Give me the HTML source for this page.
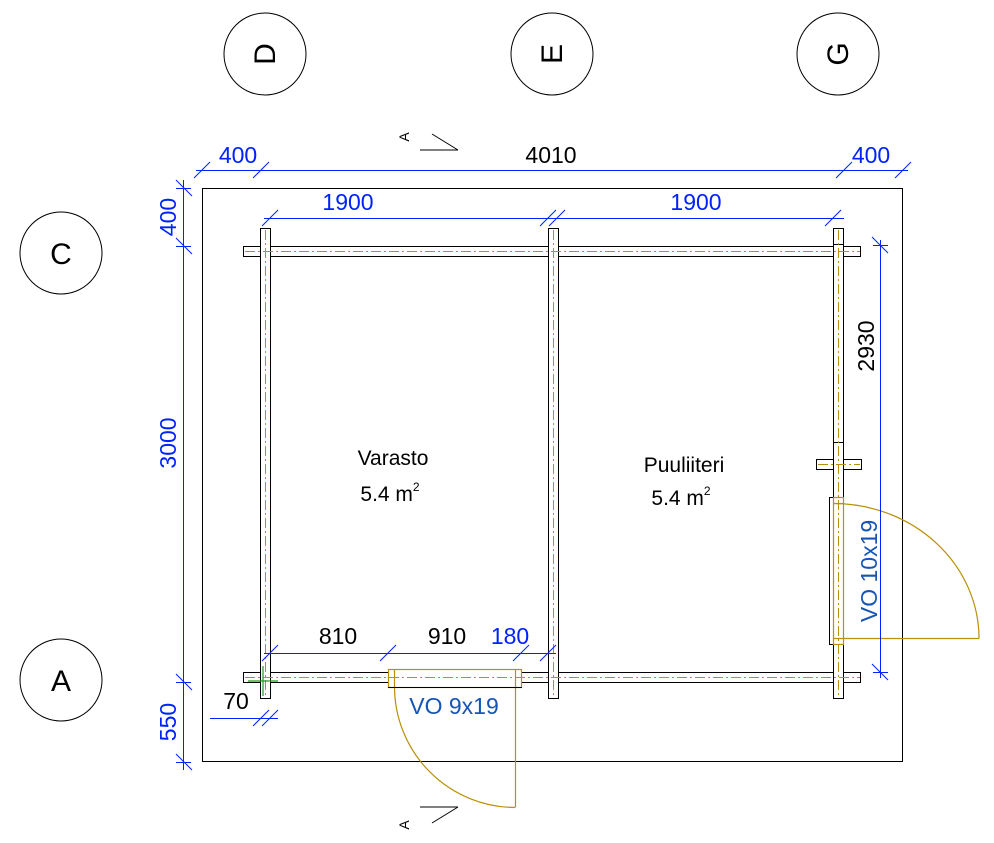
<!DOCTYPE html>
<html><head><meta charset="utf-8"><style>
html,body{margin:0;padding:0;background:#fff;width:994px;height:843px;overflow:hidden}
svg{display:block}
text{font-family:"Liberation Sans Narrow","Liberation Sans",Arial,sans-serif}
</style></head><body>
<svg width="994" height="843" viewBox="0 0 994 843" xmlns="http://www.w3.org/2000/svg">
<g fill="none" stroke="#000" stroke-width="1">
<circle cx="265" cy="54" r="41"/><circle cx="552" cy="54" r="41"/><circle cx="838" cy="54" r="41"/>
<circle cx="61" cy="253" r="41"/><circle cx="61" cy="680" r="41"/>
<rect x="202.5" y="188.5" width="700" height="573"/>
<rect x="243.5" y="246.5" width="617" height="10" fill="#fff"/>
<rect x="243.5" y="672.5" width="617" height="10" fill="#fff"/>
<rect x="816.5" y="459.5" width="45" height="10" fill="#fff"/>
<rect x="260.5" y="228.5" width="10" height="470" fill="#fff"/>
<rect x="548.5" y="228.5" width="10" height="470" fill="#fff"/>
<rect x="833.5" y="228.5" width="10" height="470" fill="#fff"/>
<line x1="833" y1="442.5" x2="844" y2="442.5"/>
<line x1="833" y1="244.5" x2="844" y2="244.5"/>
<rect x="829.5" y="497.5" width="14" height="147" fill="#fff"/>
<rect x="388.5" y="669.5" width="133" height="18" fill="#fff"/>
<line x1="420" y1="150" x2="458" y2="150"/><line x1="432" y1="134" x2="458" y2="150"/>
<line x1="420" y1="807" x2="458" y2="807"/><line x1="432" y1="823" x2="458" y2="807"/>
</g>
<g stroke="#b8900a" stroke-width="1" stroke-dasharray="10,3,2,3" fill="none">
<line x1="245" y1="251.5" x2="860" y2="251.5"/>
<line x1="245" y1="677.5" x2="860" y2="677.5"/>
<line x1="818" y1="464.5" x2="860" y2="464.5"/>
<line x1="265.5" y1="230" x2="265.5" y2="698"/>
<line x1="553.5" y1="230" x2="553.5" y2="698"/>
<line x1="838.5" y1="230" x2="838.5" y2="698"/>
</g>
<g stroke="#b8900a" stroke-width="1.2" fill="none">
<rect x="833.5" y="497.5" width="10" height="147"/>
<line x1="833" y1="503.5" x2="844" y2="503.5"/>
<line x1="833" y1="638.5" x2="979" y2="638.5"/>
<path d="M833 503.5 A146 135 0 0 1 979 638.5"/>
<rect x="388.5" y="669.5" width="133" height="18"/>
<line x1="394.5" y1="670" x2="394.5" y2="687"/>
<line x1="515.5" y1="670" x2="515.5" y2="807"/>
<path d="M394.5 687 A121 121 0 0 0 515.5 807.5"/>
</g>
<line x1="388" y1="687.5" x2="522" y2="687.5" stroke="#000"/>
<g stroke="#1a9a1a" stroke-width="1.2"><line x1="248" y1="681" x2="278" y2="681"/><line x1="263" y1="666" x2="263" y2="696"/></g>
<g stroke="#0022ff" stroke-width="1" fill="none">
<line x1="196" y1="170.5" x2="908" y2="170.5"/>
<line x1="183.5" y1="180" x2="183.5" y2="770"/>
<line x1="264" y1="218.5" x2="844" y2="218.5"/>
<line x1="880.5" y1="240" x2="880.5" y2="678"/>
<line x1="264" y1="653.5" x2="556" y2="653.5"/>
<line x1="210" y1="718.5" x2="278" y2="718.5"/>
<path d="M194 178l16-16M253 178l16-16M836 178l16-16M895 178l16-16"/>
<path d="M176 180l16 16M176 238l16 16M176 674l16 16M176 754l16 16"/>
<path d="M262 226l16-16M540 226l16-16M549 226l16-16M825 226l16-16"/>
<path d="M872 237l16 16M872 664l16 16M873 245.5h15M873 672.5h15"/>
<path d="M262 661l16-16M380 661l16-16M513 661l16-16M540 661l16-16"/>
<path d="M253 726l16-16M262 726l16-16"/>
<path d="M176 188.5h15M176 246.5h15M176 682.5h15M176 762.5h15"/>
</g>
<g font-size="30" text-anchor="middle" fill="#000">
<text transform="translate(275,54) rotate(-90)">D</text>
<text transform="translate(562,54) rotate(-90)">E</text>
<text transform="translate(848,54) rotate(-90)">G</text>
<text x="61" y="264">C</text>
<text x="61" y="691">A</text>
</g>
<g text-anchor="middle">
<text transform="translate(409,137) rotate(-90)" fill="#000" font-size="14">A</text>
<text transform="translate(409,825) rotate(-90)" fill="#000" font-size="14">A</text>
</g>
<g font-size="23" text-anchor="middle">
<text x="238" y="163" fill="#0022ff">400</text>
<text x="551" y="163" fill="#000">4010</text>
<text x="871" y="163" fill="#0022ff">400</text>
<text x="348" y="210" fill="#0022ff">1900</text>
<text x="696" y="210" fill="#0022ff">1900</text>
<text transform="translate(176,217) rotate(-90)" fill="#0022ff">400</text>
<text transform="translate(176,443) rotate(-90)" fill="#0022ff">3000</text>
<text transform="translate(176,722) rotate(-90)" fill="#0022ff">550</text>
<text transform="translate(874,346) rotate(-90)" fill="#000">2930</text>
<text transform="translate(877,571) rotate(-90)" fill="#1555b5">VO 10x19</text>
<text x="338" y="644" fill="#000">810</text>
<text x="447" y="644" fill="#000">910</text>
<text x="510" y="644" fill="#0022ff">180</text>
<text x="236" y="709" fill="#000">70</text>
<text x="454" y="714" fill="#1555b5">VO 9x19</text>
<text x="393" y="465" fill="#000" font-size="21">Varasto</text>
<text x="390" y="501" fill="#000" font-size="21">5.4 m<tspan font-size="12" dy="-10">2</tspan></text>
<text x="684" y="472" fill="#000" font-size="21">Puuliiteri</text>
<text x="681" y="505" fill="#000" font-size="21">5.4 m<tspan font-size="12" dy="-10">2</tspan></text>
</g>
</svg>
</body></html>
